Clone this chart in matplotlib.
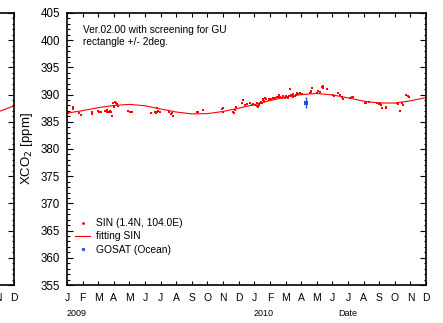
import matplotlib
matplotlib.use('Agg')
import matplotlib.pyplot as plt
from matplotlib.ticker import MultipleLocator, FixedLocator
from matplotlib.transforms import blended_transform_factory
from matplotlib.lines import Line2D

plt.rcParams['font.family'] = ['Liberation Sans', 'DejaVu Sans']

# ---------------- data ----------------
month_labels = list('JFMAMJJASOND') * 2          # Jan 2009 .. Dec 2010
year_labels = ['2009', '2010']
year_pos = [0, 12]

# SIN ground-based observations (x = months since 1 Jan 2009, y = XCO2 ppm)
sin_month = [0.02, 0.08, 0.36, 0.41, 0.79, 0.87, 1.58, 1.60, 2.01, 2.07, 2.16,
             2.44, 2.54, 2.59, 2.71, 2.76, 2.80, 2.86, 2.97, 3.01, 3.08, 3.14,
             3.23, 3.29, 3.93, 4.04, 4.15, 5.36, 5.64, 5.71, 5.75, 5.79, 5.85,
             5.96, 6.56, 6.65, 6.71, 6.77, 8.31, 8.42, 8.74, 9.91, 9.98, 10.02,
             10.62, 10.71, 10.77, 10.83, 11.20, 11.30, 11.41, 11.52,
             11.73, 11.84, 11.94, 12.05, 12.16, 12.20, 12.25, 12.33, 12.37,
             12.41, 12.48, 12.54, 12.58, 12.63, 12.69, 12.76, 12.91, 12.97,
             13.06, 13.18, 13.27, 13.33, 13.44, 13.55, 13.61, 13.65, 13.76,
             13.82, 13.87, 13.97, 14.04, 14.08, 14.13, 14.19, 14.25, 14.29,
             14.34, 14.40, 14.46, 14.51, 14.62, 14.68, 14.72, 14.83, 14.94,
             15.04, 15.58, 15.62, 15.68, 15.64, 16.01, 16.11, 16.22, 16.33,
             16.39, 16.43, 16.64, 17.03, 17.12, 17.39, 17.46, 17.61, 17.67,
             18.14, 18.25, 18.31, 19.10, 19.17, 19.32, 19.85, 19.96, 20.06,
             20.13, 20.17, 20.43, 20.45, 21.13, 21.18, 21.35, 21.45, 21.52,
             21.73, 21.82, 21.88]
sin_xco2 = [387.05, 386.56, 387.66, 387.30, 386.56, 386.26, 386.87, 386.38,
            387.05, 386.74, 386.87, 387.05, 387.17, 386.74, 386.87, 387.05,
            386.74, 386.13, 388.40, 387.79, 388.71, 388.52, 388.28, 387.97,
            387.05, 386.74, 386.87, 386.56, 386.87, 386.56, 387.48, 386.74,
            387.05, 386.87, 386.74, 386.38, 386.56, 386.13, 386.74, 386.87,
            387.17, 387.30, 386.87, 387.48, 386.87, 386.56, 387.17, 387.79,
            388.40, 389.01, 388.09, 388.28,
            388.39, 388.08, 388.21, 388.08, 387.90, 388.39, 387.78, 388.08,
            388.51, 388.70, 388.39, 389.00, 389.13, 388.88, 389.31, 389.13,
            389.13, 389.00, 389.13, 389.31, 389.13, 389.31, 389.49, 389.62,
            389.92, 389.49, 389.31, 389.74, 389.49, 389.31, 389.74, 389.49,
            389.31, 389.62, 389.74, 391.03, 389.92, 389.74, 389.62, 390.11,
            389.74, 389.92, 390.23, 390.11, 390.35, 390.11, 390.23, 390.72,
            391.15, 390.54, 390.35, 390.72, 390.54, 391.46, 391.58, 391.15,
            390.97, 389.92, 389.74, 390.35, 389.92, 389.49, 389.13, 389.31,
            389.49, 389.62, 388.39, 388.39, 388.57, 388.39, 388.21, 388.51,
            388.08, 387.47, 387.78, 387.47, 388.51, 388.27, 387.04, 388.39,
            388.08, 389.92, 389.74, 389.49]

# fitted SIN curve, sampled monthly
fit_month = list(range(24))
fit_xco2 = [386.6, 387.05, 387.6, 388.0, 388.2, 387.95, 387.35, 386.8,
            386.45, 386.5, 386.9, 387.5, 388.15, 388.9, 389.55, 390.0,
            390.2, 389.95, 389.4, 388.8, 388.45, 388.45, 388.85, 389.45]

# GOSAT (Ocean)
gosat_month = [15.32]
gosat_xco2 = [388.51]
gosat_err = [0.98]

# neighbouring (cut-off) panel on the left: visible end of its fitted curve
prev_fit_month = [22.0, 23.0]
prev_fit_xco2 = [386.8, 387.9]

# ---------------- figure ----------------
W, H = 443, 323
fig = plt.figure(figsize=(W / 100, H / 100), dpi=100)

ax_l, ax_r, ax_t, ax_b = 67, 426, 13, 285
bottom = (H - ax_b) / H
height = (ax_b - ax_t) / H
width = (ax_r - ax_l) / W

red = '#ff0000'
blue = '#1a4fe6'


def style_axes(ax, labels):
    ax.set_xlim(0, 23)
    ax.set_ylim(355, 405)
    ax.xaxis.set_major_locator(FixedLocator(range(24)))
    ax.set_xticklabels(labels)
    ax.yaxis.set_major_locator(MultipleLocator(5))
    ax.yaxis.set_minor_locator(MultipleLocator(1))
    ax.tick_params(axis='both', which='both', direction='in',
                   top=True, right=True, width=0.8, color='black')
    ax.tick_params(axis='x', which='major', length=3.0, labelsize=7.5, pad=6)
    ax.tick_params(axis='y', which='major', length=4.0, labelsize=8.3, pad=5)
    ax.tick_params(axis='y', which='minor', length=1.8)
    for s in ax.spines.values():
        s.set_linewidth(1.2)


# cut-off previous panel (only its last two month letters reach the figure)
ax0 = fig.add_axes([(13.5 - (ax_r - ax_l)) / W, bottom, width, height])
style_axes(ax0, [''] * 22 + month_labels[-2:])
ax0.yaxis.set_major_formatter(plt.NullFormatter())
ax0.plot(prev_fit_month, prev_fit_xco2, color=red, lw=0.8)

# main panel
ax = fig.add_axes([ax_l / W, bottom, width, height])
style_axes(ax, month_labels)

ax.plot(sin_month, sin_xco2, linestyle='none', marker='s', markersize=1.9,
        color=red, markeredgewidth=0)
ax.plot(fit_month, fit_xco2, color=red, lw=0.8)
ax.errorbar(gosat_month, gosat_xco2, yerr=gosat_err, fmt='s', markersize=2.6,
            color=blue, ecolor=blue, elinewidth=1.0, capsize=2.2,
            capthick=1.0, markeredgewidth=0)

ax.set_ylabel('XCO$_2$ [ppm]', fontsize=9.5, labelpad=4)

ax.text(0.045, 0.955, 'Ver.02.00 with screening for GU\nrectangle +/- 2deg.',
        transform=ax.transAxes, fontsize=7.3, va='top', ha='left',
        linespacing=1.25)

# year / date labels under the month letters
tr = blended_transform_factory(ax.transData, ax.transAxes)
for yl, yp in zip(year_labels, year_pos):
    ax.text(yp - 0.05, -0.103, yl, transform=tr, fontsize=6.5,
            ha='left', va='center')
ax.text(18, -0.103, 'Date', transform=tr, fontsize=6.5, ha='center',
        va='center')

handles = [
    Line2D([], [], linestyle='none', marker='o', markersize=2.0, color=red,
           markeredgewidth=0),
    Line2D([], [], color=red, lw=0.8),
    Line2D([], [], linestyle='none', marker='o', markersize=2.4, color=blue,
           markeredgewidth=0),
]
ax.legend(handles, ['SIN (1.4N, 104.0E)', 'fitting SIN', 'GOSAT (Ocean)'],
          loc='upper left', bbox_to_anchor=(0.022, 0.245), frameon=False,
          fontsize=7.4, handlelength=1.5, handletextpad=0.55,
          labelspacing=0.3, borderpad=0, borderaxespad=0, numpoints=1)

fig.savefig('out.png', dpi=100)
